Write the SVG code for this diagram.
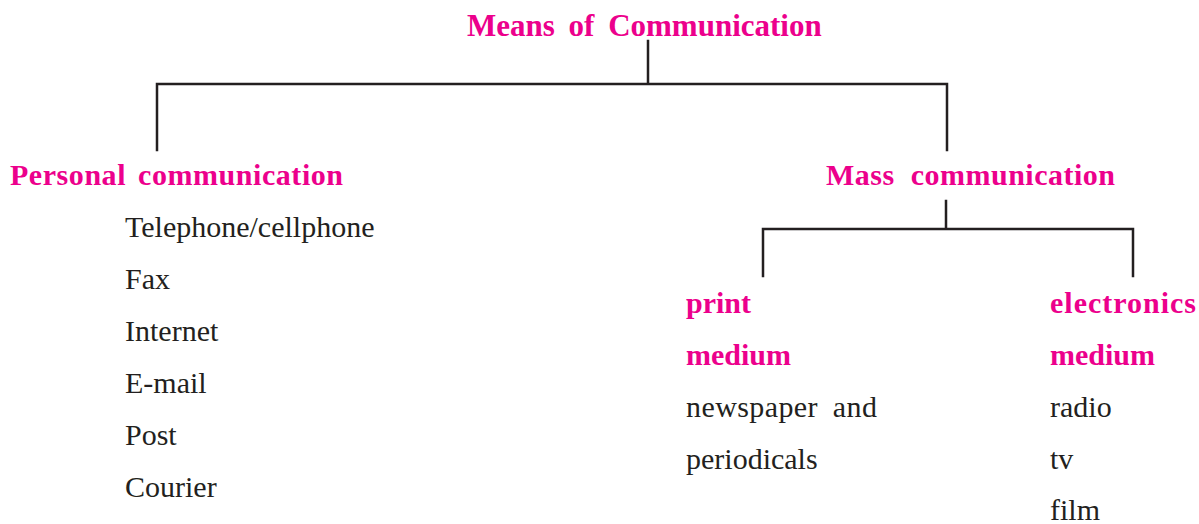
<svg xmlns="http://www.w3.org/2000/svg" width="1199" height="524" viewBox="0 0 1199 524">
  <style>
    .head { font-family: "Liberation Serif", "Times New Roman", serif; font-weight: bold; font-size: 30px; fill: #EC008C; }
    .item { font-family: "Liberation Serif", "Times New Roman", serif; font-size: 30px; fill: #231F20; }
    .wire { stroke: #231F20; stroke-width: 2.5; fill: none; stroke-linecap: square; }
  </style>
  <rect width="1199" height="524" fill="#FFFFFF"/>

  <g id="connectors">
    <!-- root to first level -->
    <path class="wire" d="M648 41 V84 M157 84 H947 M157 84 V150 M947 84 V150"/>
    <!-- mass communication to media -->
    <path class="wire" d="M946 201 V229 M763 229 H1133 M763 229 V276 M1133 229 V276"/>
  </g>

  <g id="root">
    <text class="head" x="467" y="36" style="font-size:31px; word-spacing:6px">Means of Communication</text>
  </g>

  <g id="personal">
    <text class="head" x="10" y="185" style="word-spacing:4px" textLength="333" lengthAdjust="spacing">Personal communication</text>
    <text class="item" x="125" y="237">Telephone/cellphone</text>
    <text class="item" x="125" y="289">Fax</text>
    <text class="item" x="125" y="341">Internet</text>
    <text class="item" x="125" y="393">E-mail</text>
    <text class="item" x="125" y="445">Post</text>
    <text class="item" x="125" y="497">Courier</text>
  </g>

  <g id="mass">
    <text class="head" x="826" y="185" style="word-spacing:8px" textLength="289" lengthAdjust="spacing">Mass communication</text>
  </g>

  <g id="print-medium">
    <text class="head" x="686" y="313">print</text>
    <text class="head" x="686" y="365">medium</text>
    <text class="item" x="686" y="417" style="word-spacing:7px" textLength="191" lengthAdjust="spacing">newspaper and</text>
    <text class="item" x="686" y="469">periodicals</text>
  </g>

  <g id="electronics-medium">
    <text class="head" x="1050" y="313" textLength="146" lengthAdjust="spacing">electronics</text>
    <text class="head" x="1050" y="365">medium</text>
    <text class="item" x="1050" y="417">radio</text>
    <text class="item" x="1050" y="469">tv</text>
    <text class="item" x="1050" y="520">film</text>
  </g>
</svg>
